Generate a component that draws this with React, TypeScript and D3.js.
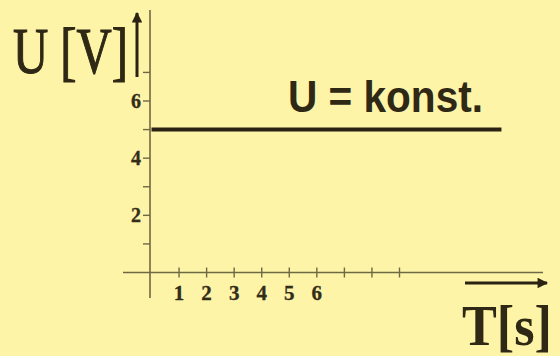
import React from "react";
import * as d3 from "d3";

// Constant voltage over time
const timeValues = [0, 12.7];
const voltageValues = [5, 5];

const xTickValues = [1, 2, 3, 4, 5, 6, 7, 8, 9];
const xTickLabels = ["1", "2", "3", "4", "5", "6", "", "", ""];
const yTickValues = [1, 2, 3, 4, 5, 6, 7];
const yTickLabels = ["", "2", "", "4", "", "6", ""];

const W = 560;
const H = 356;

export default function App() {
  const x = d3.scaleLinear().domain([0, 9]).range([151.5, 399.5]);
  const y = d3.scaleLinear().domain([0, 6]).range([272.5, 101]);

  const line = d3
    .line<number>()
    .x((_, i) => x(timeValues[i]))
    .y((d) => y(d));

  const axisColor = "#6f6845";
  const ink = "#2a2212";
  const labelInk = "#2e2814";
  const x0 = 150;
  const y0 = y(0);

  return (
    <svg
      width={W}
      height={H}
      style={{ position: "absolute", left: 0, top: 0 }}
      viewBox={`0 0 ${W} ${H}`}
    >
      <defs>
        <marker
          id="head"
          viewBox="0 0 10 10"
          refX="9"
          refY="5"
          markerWidth="4"
          markerHeight="3.5"
          orient="auto"
        >
          <path d="M0,0 L10,5 L0,10 z" fill={ink} />
        </marker>
      </defs>
      <rect width={W} height={H} fill="#fdf4a8" />

      {/* axes */}
      <line x1={123} x2={543} y1={y0} y2={y0} stroke={axisColor} strokeWidth={1.6} />
      <line x1={x0} x2={x0} y1={10} y2={298} stroke={axisColor} strokeWidth={1.6} />

      {/* x ticks */}
      {xTickValues.map((v, i) => (
        <g key={"xt" + v}>
          <line
            x1={x(v)}
            x2={x(v)}
            y1={y0 - 5}
            y2={y0 + 5}
            stroke={axisColor}
            strokeWidth={1.4}
          />
          {xTickLabels[i] && (
            <text
              x={x(v)}
              y={y0 + 27}
              textAnchor="middle"
              fontFamily="Liberation Serif"
              fontWeight="bold"
              fontSize={21}
              fill="#332d18"
              stroke="#332d18"
              strokeWidth={0.3}
            >
              {xTickLabels[i]}
            </text>
          )}
        </g>
      ))}

      {/* y ticks */}
      {yTickValues.map((v, i) => (
        <g key={"yt" + v}>
          <line
            x1={x0 - 7}
            x2={x0}
            y1={y(v)}
            y2={y(v)}
            stroke={axisColor}
            strokeWidth={1.4}
          />
          {yTickLabels[i] && (
            <text
              x={x0 - 9}
              y={y(v) + 7}
              textAnchor="end"
              fontFamily="Liberation Serif"
              fontWeight="bold"
              fontSize={20}
              fill="#332d18"
              stroke="#332d18"
              strokeWidth={0.3}
            >
              {yTickLabels[i]}
            </text>
          )}
        </g>
      ))}

      {/* data line */}
      <path
        d={line(voltageValues) || ""}
        fill="none"
        stroke={ink}
        strokeWidth={4}
      />

      {/* axis arrows */}
      <line
        x1={137}
        x2={137}
        y1={77}
        y2={13}
        stroke={ink}
        strokeWidth={3}
        markerEnd="url(#head)"
      />
      <line
        x1={465}
        x2={547}
        y1={283}
        y2={283}
        stroke={ink}
        strokeWidth={3}
        markerEnd="url(#head)"
      />

      {/* labels */}
      <text
        x={13}
        y={73}
        fontFamily="Liberation Serif"
        fontSize={66}
        textLength={115}
        lengthAdjust="spacingAndGlyphs"
        fill={labelInk}
        stroke={labelInk}
        strokeWidth={1.2}
      >
        U [V]
      </text>
      <text
        x={288}
        y={112}
        fontFamily="Liberation Sans"
        fontWeight="bold"
        fontSize={44}
        textLength={195}
        lengthAdjust="spacingAndGlyphs"
        fill={labelInk}
      >
        U = konst.
      </text>
      <text
        x={462}
        y={345}
        fontFamily="Liberation Serif"
        fontWeight="bold"
        fontSize={56}
        textLength={90}
        lengthAdjust="spacingAndGlyphs"
        fill={labelInk}
      >
        T[s]
      </text>
    </svg>
  );
}
